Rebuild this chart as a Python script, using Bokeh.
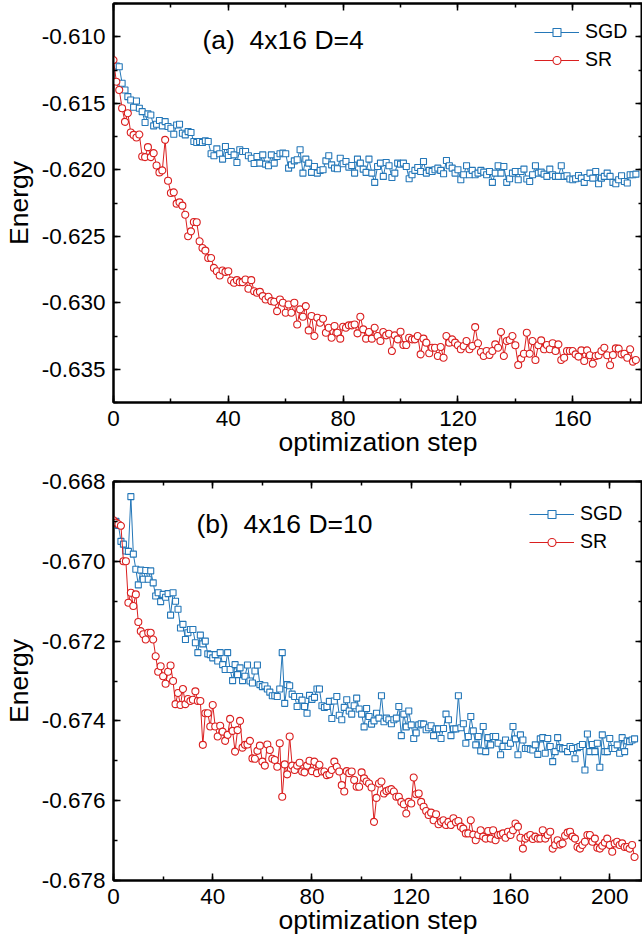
from bokeh.plotting import figure
from bokeh.layouts import column
from bokeh.models import (Range1d, SingleIntervalTicker, LinearAxis, NumeralTickFormatter,
                          CustomJSTickFormatter, Legend, LegendItem, Label)
from bokeh.embed import file_html
from bokeh.resources import INLINE

# ---------------- data ----------------
x_ticks_interval = 40
series_names = ["SGD", "SR"]

# panel (a): 4x16 D=4
sgd_a = [
    -0.6120, -0.6122, -0.61225, -0.6135, -0.6140, -0.6145, -0.61475, -0.6153, -0.61483, -0.61538,
    -0.61563, -0.61645, -0.6158, -0.61588, -0.6167, -0.61658, -0.6163, -0.6167, -0.61638, -0.61675,
    -0.61688, -0.61733, -0.61663, -0.61658, -0.61725, -0.61738, -0.61713, -0.6172, -0.61788, -0.61795,
    -0.61788, -0.61795, -0.61783, -0.61788, -0.6188, -0.61895, -0.61843, -0.6188, -0.6192, -0.61825,
    -0.61893, -0.61863, -0.61888, -0.61945, -0.6185, -0.61863, -0.61863, -0.61895, -0.61913, -0.61953,
    -0.619, -0.6195, -0.61888, -0.61958, -0.6197, -0.61888, -0.6195, -0.619, -0.6188, -0.61875,
    -0.6188, -0.61988, -0.61963, -0.61933, -0.61925, -0.6185, -0.62025, -0.6192, -0.6195, -0.6202,
    -0.61975, -0.62025, -0.62005,
    -0.62000, -0.61933, -0.61895, -0.61963, -0.61988, -0.61993, -0.61913, -0.61955, -0.61938, -0.61980,
    -0.61968, -0.62025, -0.61920, -0.61950, -0.61995, -0.62020, -0.61920, -0.62025, -0.62095, -0.61975,
    -0.61950, -0.62050, -0.61945, -0.61970, -0.62058, -0.62025, -0.61950, -0.61958, -0.61950, -0.61975,
    -0.62068, -0.62038, -0.62005, -0.61983, -0.62013, -0.61938, -0.62025, -0.62005, -0.62013, -0.62000,
    -0.61988, -0.62005, -0.62030, -0.61930, -0.61970, -0.61988, -0.62025, -0.62000, -0.62075, -0.62038,
    -0.61970, -0.62038, -0.62005, -0.62038, -0.62025, -0.62005, -0.62018, -0.62038, -0.62013, -0.62095,
    -0.62025, -0.61970, -0.62025, -0.61975, -0.62095, -0.62068, -0.62025, -0.62013, -0.62075, -0.62013,
    -0.61995, -0.62070, -0.62088, -0.62038, -0.61970, -0.62025, -0.62018, -0.62033, -0.62050, -0.61995,
    -0.62038, -0.62050, -0.62050, -0.61970, -0.62050, -0.62045, -0.62070, -0.62075, -0.62068, -0.62043,
    -0.62063, -0.62095, -0.62058, -0.62025, -0.62063, -0.62013, -0.62105, -0.62063, -0.62050, -0.62025,
    -0.62050, -0.62095, -0.62105, -0.62075, -0.62045, -0.62088, -0.62100, -0.62038, -0.62038, -0.62033,
]
sr_a = [
    -0.61175, -0.61338, -0.61400, -0.61538, -0.61640, -0.61575, -0.61720, -0.61738, -0.61758, -0.61735,
    -0.61900, -0.61905, -0.61830, -0.61905, -0.61875, -0.61968, -0.62020, -0.62005, -0.61775, -0.62083,
    -0.62175, -0.62170,
    -0.62255, -0.62245, -0.62270, -0.62338, -0.62500, -0.62463, -0.62393, -0.62395, -0.62538, -0.62588,
    -0.62608, -0.62663, -0.62663, -0.62738, -0.62763, -0.62795, -0.62758, -0.62768, -0.62763, -0.62833,
    -0.62850, -0.62830, -0.62845, -0.62845, -0.62825, -0.62895, -0.62830, -0.62913, -0.62925, -0.62918,
    -0.62950, -0.62975, -0.62955, -0.62988, -0.62993, -0.63063, -0.62975, -0.63000, -0.63075, -0.63013,
    -0.63075, -0.63000, -0.63163, -0.63050, -0.63105, -0.63025, -0.63208, -0.63100, -0.63250, -0.63113,
    -0.63150,
    -0.63120, -0.63225, -0.63188, -0.63263, -0.63175, -0.63225, -0.63270, -0.63180, -0.63188, -0.63170,
    -0.63170, -0.63163, -0.63230, -0.63105, -0.63200, -0.63270, -0.63220, -0.63270, -0.63188, -0.63250,
    -0.63288, -0.63220, -0.63245, -0.63233, -0.63363, -0.63245, -0.63275, -0.63218, -0.63318, -0.63318,
    -0.63263, -0.63275, -0.63275, -0.63250, -0.63388, -0.63270, -0.63300, -0.63380, -0.63338, -0.63338,
    -0.63400, -0.63333, -0.63413, -0.63250, -0.63300, -0.63275, -0.63300, -0.63320, -0.63350, -0.63325,
    -0.63288, -0.63350, -0.63325, -0.63183, -0.63305, -0.63370, -0.63400, -0.63363, -0.63393, -0.63363,
    -0.63313, -0.63338, -0.63220, -0.63400, -0.63288, -0.63280, -0.63250, -0.63320, -0.63468, -0.63420,
    -0.63383, -0.63225, -0.63383, -0.63288, -0.63430, -0.63320, -0.63283, -0.63350, -0.63318, -0.63350,
    -0.63305, -0.63363, -0.63313, -0.63430, -0.63413, -0.63363, -0.63363, -0.63363, -0.63388, -0.63405,
    -0.63358, -0.63438, -0.63358, -0.63395, -0.63458, -0.63400, -0.63395, -0.63363, -0.63338, -0.63395,
    -0.63470, -0.63393, -0.63343, -0.63345, -0.63388, -0.63383, -0.63413, -0.63350, -0.63443, -0.63430,
]

# panel (b): 4x16 D=10
sgd_b = [
    -0.66905, -0.66900, -0.66910, -0.66950, -0.66957, -0.66974, -0.66975, -0.66838, -0.66982, -0.67020,
    -0.67059, -0.67022, -0.67045, -0.67023, -0.67045, -0.67024, -0.67054, -0.67087, -0.67079, -0.67101,
    -0.67083, -0.67090, -0.67081, -0.67135, -0.67079, -0.67100, -0.67120, -0.67167, -0.67158, -0.67196,
    -0.67179, -0.67171, -0.67171, -0.67204, -0.67229, -0.67185, -0.67207, -0.67200, -0.67232, -0.67234,
    -0.67242, -0.67234, -0.67250, -0.67229, -0.67259, -0.67271, -0.67229, -0.67271, -0.67299, -0.67259,
    -0.67284, -0.67267, -0.67299, -0.67288, -0.67260, -0.67300, -0.67305, -0.67275, -0.67260, -0.67309,
    -0.67314, -0.67312, -0.67320, -0.67328, -0.67337, -0.67337, -0.67339, -0.67320, -0.67229, -0.67356,
    -0.67309,
    -0.67312, -0.67333, -0.67339, -0.67364, -0.67339, -0.67348, -0.67364, -0.67381, -0.67336, -0.67346,
    -0.67341, -0.67320, -0.67320, -0.67362, -0.67366, -0.67364, -0.67351, -0.67394, -0.67350, -0.67339,
    -0.67386, -0.67397, -0.67366, -0.67347, -0.67375, -0.67383, -0.67362, -0.67343, -0.67370, -0.67383,
    -0.67415, -0.67369, -0.67389, -0.67408, -0.67400, -0.67381, -0.67393, -0.67337, -0.67402, -0.67393,
    -0.67397, -0.67407, -0.67397, -0.67393, -0.67364, -0.67437, -0.67383, -0.67415, -0.67375, -0.67410,
    -0.67444, -0.67430, -0.67410, -0.67407, -0.67408, -0.67422, -0.67417, -0.67412, -0.67437, -0.67420,
    -0.67420, -0.67444, -0.67419, -0.67383, -0.67397, -0.67437, -0.67420, -0.67420, -0.67337, -0.67417,
    -0.67407,
    -0.67456, -0.67439, -0.67389, -0.67425, -0.67460, -0.67439, -0.67475, -0.67414, -0.67477, -0.67442,
    -0.67460, -0.67439, -0.67439, -0.67456, -0.67485, -0.67464, -0.67448, -0.67464, -0.67456, -0.67414,
    -0.67445, -0.67485, -0.67435, -0.67448, -0.67469, -0.67469, -0.67471, -0.67473, -0.67460, -0.67484,
    -0.67445, -0.67442, -0.67481, -0.67444, -0.67464, -0.67502, -0.67477, -0.67442, -0.67467, -0.67470,
    -0.67469, -0.67477, -0.67464, -0.67469, -0.67495, -0.67467, -0.67464, -0.67459, -0.67523, -0.67433,
    -0.67477, -0.67459, -0.67477, -0.67456, -0.67516, -0.67435, -0.67477, -0.67477, -0.67444, -0.67469,
    -0.67469, -0.67460, -0.67481, -0.67442, -0.67477, -0.67450, -0.67452, -0.67448, -0.67445,
]
sr_b = [
    -0.66897, -0.66903, -0.66907, -0.66911, -0.67000, -0.67000, -0.67104, -0.67079, -0.67112, -0.67083,
    -0.67152, -0.67175, -0.67183, -0.67196, -0.67179, -0.67179, -0.67196,
    -0.67238, -0.67277, -0.67263, -0.67288, -0.67307, -0.67277, -0.67261, -0.67300, -0.67358, -0.67330,
    -0.67360, -0.67320, -0.67358, -0.67345, -0.67350, -0.67347, -0.67326, -0.67350, -0.67350, -0.67460,
    -0.67381, -0.67381, -0.67414, -0.67360, -0.67414, -0.67439, -0.67412, -0.67427, -0.67450, -0.67435,
    -0.67395, -0.67425, -0.67477, -0.67423, -0.67400, -0.67467, -0.67460, -0.67459, -0.67450, -0.67494,
    -0.67495, -0.67475, -0.67462, -0.67502, -0.67512, -0.67459, -0.67473, -0.67495, -0.67498, -0.67515,
    -0.67456, -0.67590, -0.67509, -0.67534, -0.67439, -0.67512, -0.67523, -0.67512, -0.67505, -0.67527,
    -0.67529, -0.67512, -0.67500, -0.67526, -0.67502, -0.67531, -0.67510, -0.67527,
    -0.67527, -0.67536, -0.67534, -0.67523, -0.67502, -0.67515, -0.67527, -0.67561, -0.67577, -0.67526,
    -0.67531, -0.67527, -0.67548, -0.67565, -0.67565, -0.67529, -0.67544, -0.67552, -0.67557, -0.67567,
    -0.67653, -0.67593, -0.67557, -0.67552, -0.67582, -0.67576, -0.67573, -0.67571, -0.67577, -0.67590,
    -0.67590, -0.67603, -0.67609, -0.67632, -0.67603, -0.67607, -0.67542, -0.67584, -0.67582, -0.67603,
    -0.67615, -0.67626, -0.67636, -0.67630, -0.67649, -0.67634, -0.67659, -0.67653, -0.67649, -0.67661,
    -0.67653, -0.67661, -0.67644, -0.67654, -0.67651, -0.67665, -0.67670, -0.67682, -0.67682, -0.67649,
    -0.67685, -0.67699, -0.67686, -0.67674, -0.67690, -0.67695, -0.67676, -0.67695, -0.67674, -0.67699,
    -0.67686, -0.67685, -0.67682, -0.67693, -0.67678, -0.67686, -0.67674, -0.67657, -0.67665, -0.67693,
    -0.67720, -0.67695, -0.67690, -0.67686, -0.67696, -0.67690, -0.67695, -0.67695, -0.67674, -0.67695,
    -0.67686, -0.67678, -0.67720, -0.67711, -0.67699, -0.67710, -0.67707, -0.67688, -0.67680, -0.67678,
    -0.67690, -0.67695, -0.67716, -0.67720, -0.67711, -0.67703, -0.67686, -0.67686, -0.67703, -0.67695,
    -0.67718, -0.67720, -0.67713, -0.67705, -0.67695, -0.67711, -0.67728, -0.67707, -0.67703, -0.67711,
    -0.67707, -0.67716, -0.67716, -0.67720, -0.67711, -0.67741,
]

steps_a_sgd = list(range(len(sgd_a)))
steps_a_sr = list(range(len(sr_a)))
steps_b_sgd = list(range(len(sgd_b)))
steps_b_sr = list(range(len(sr_b)))

# ---------------- styling ----------------
FONT = "Liberation Sans"
BLUE = "#2477b8"
RED = "#da1f1f"


def style_axis(ax, show_labels=True, label_standoff=4):
    ax.axis_line_width = 2
    ax.axis_line_color = "black"
    ax.major_tick_in = 7
    ax.major_tick_out = 0
    ax.minor_tick_in = 4
    ax.minor_tick_out = 0
    ax.major_tick_line_width = 1.5
    ax.minor_tick_line_width = 1.5
    ax.major_tick_line_color = "black"
    ax.minor_tick_line_color = "black"
    ax.major_label_text_font = FONT
    ax.major_label_text_color = "black"
    ax.axis_label_text_font = FONT
    ax.axis_label_text_font_style = "normal"
    ax.axis_label_text_color = "black"
    if show_labels:
        ax.major_label_text_font_size = "22.5px"
        ax.major_label_standoff = 8
        ax.axis_label_text_font_size = "26.5px"
        ax.axis_label_standoff = label_standoff
    else:
        ax.major_label_text_font_size = "1px"
        ax.major_label_standoff = 0
        ax.formatter = CustomJSTickFormatter(code="return ''")


def make_panel(sgd, sr, xs_sgd, xs_sr, x_end, y_start, y_end, y_interval,
               title, title_pos, legend_pos, border_top, border_bottom):
    p = figure(frame_width=529, frame_height=399,
               x_range=Range1d(0, x_end), y_range=Range1d(y_start, y_end),
               output_backend="svg", toolbar_location=None,
               min_border_left=113, min_border_right=0,
               min_border_top=border_top, min_border_bottom=border_bottom)
    p.grid.visible = False
    p.outline_line_color = "black"
    p.outline_line_width = 2
    p.background_fill_color = "white"
    p.border_fill_color = "white"

    p.xaxis.ticker = SingleIntervalTicker(interval=x_ticks_interval, num_minor_ticks=2)
    p.yaxis.ticker = SingleIntervalTicker(interval=y_interval, num_minor_ticks=2)
    p.yaxis.formatter = NumeralTickFormatter(format="0.000")
    p.xaxis.axis_label = "optimization step"
    p.yaxis.axis_label = "Energy"
    style_axis(p.xaxis[0], label_standoff=-2)
    style_axis(p.yaxis[0], label_standoff=5)

    top = LinearAxis(ticker=SingleIntervalTicker(interval=x_ticks_interval, num_minor_ticks=2))
    right = LinearAxis(ticker=SingleIntervalTicker(interval=y_interval, num_minor_ticks=2))
    style_axis(top, show_labels=False)
    style_axis(right, show_labels=False)
    p.add_layout(top, "above")
    p.add_layout(right, "right")

    l1 = p.line(xs_sgd, sgd, line_color=BLUE, line_width=1)
    s1 = p.scatter(xs_sgd, sgd, marker="square", size=6, fill_color="white",
                   line_color=BLUE, line_width=1.1)
    l2 = p.line(xs_sr, sr, line_color=RED, line_width=1)
    s2 = p.scatter(xs_sr, sr, marker="circle", size=7, fill_color="white",
                   line_color=RED, line_width=1.1)

    legend = Legend(items=[LegendItem(label=series_names[0], renderers=[l1, s1]),
                           LegendItem(label=series_names[1], renderers=[l2, s2])],
                    location=legend_pos, padding=0, margin=0, spacing=5,
                    glyph_width=45, glyph_height=20, label_standoff=6,
                    label_height=20, border_line_color=None,
                    background_fill_alpha=0,
                    label_text_font=FONT, label_text_font_size="19.5px",
                    label_text_color="black")
    p.add_layout(legend)

    lab = Label(x=title_pos[0], y=title_pos[1], x_units="screen", y_units="screen",
                text=title, text_font=FONT, text_font_size="26.5px",
                text_color="black", text_baseline="alphabetic")
    p.add_layout(lab)
    return p


p1 = make_panel(sgd_a, sr_a, steps_a_sgd, steps_a_sr, 184.3, -0.6375, -0.6075, 0.005,
                "(a)\u00a0 4x16 D=4", (89, 363), (421, 331), 3, 62)
p2 = make_panel(sgd_b, sr_b, steps_b_sgd, steps_b_sr, 213.2, -0.678, -0.668, 0.002,
                "(b)\u00a0 4x16 D=10", (83, 357), (416, 327), 17, 60)

layout = column(p1, p2, spacing=0)
open("out.html", "w").write(file_html(layout, INLINE))
